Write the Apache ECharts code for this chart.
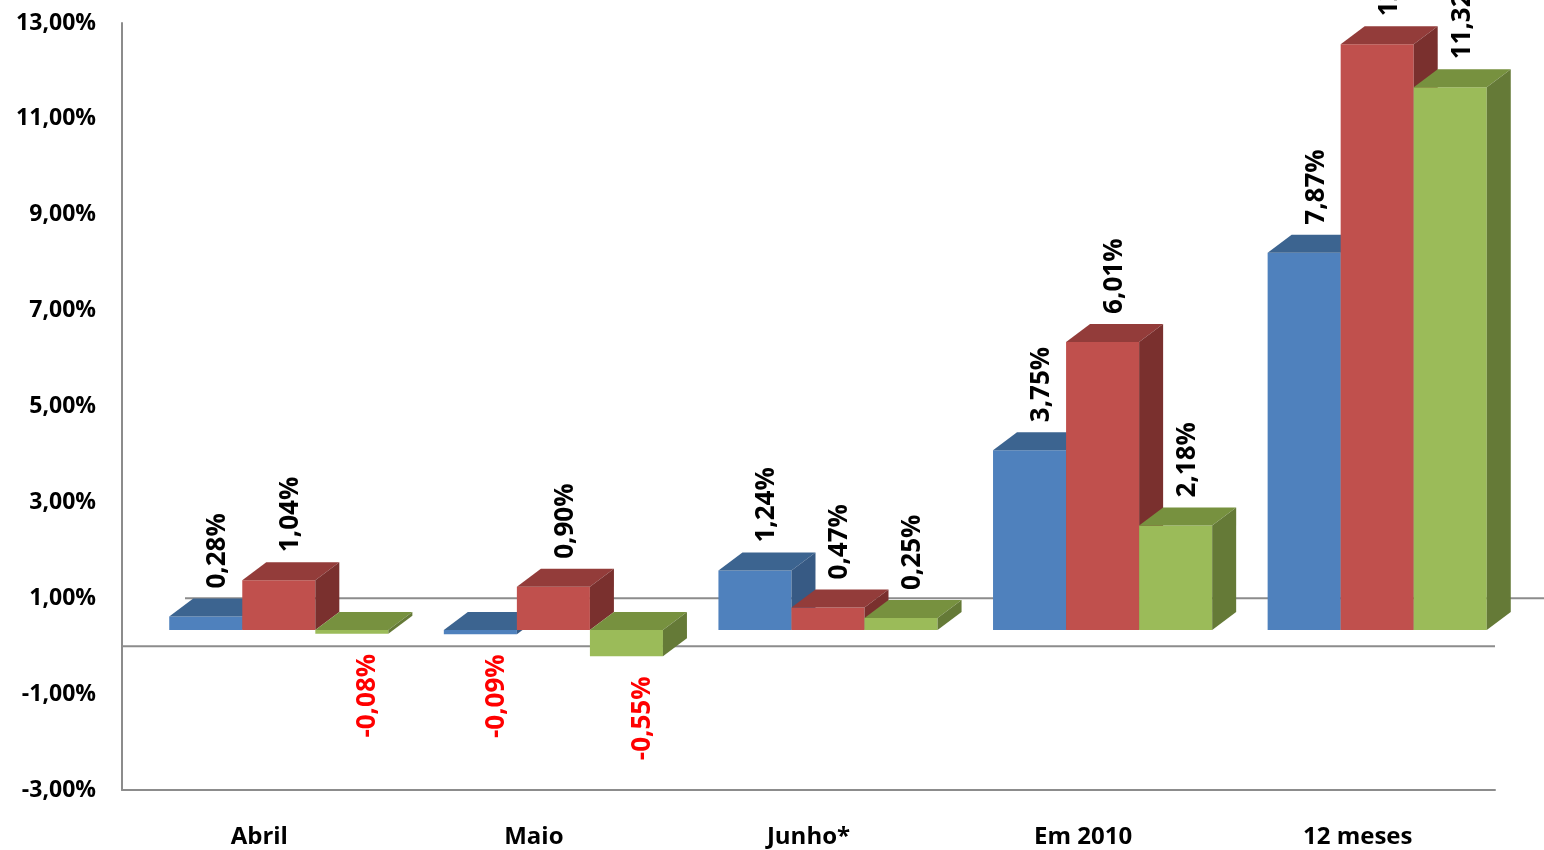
<!DOCTYPE html>
<html>
<head>
<meta charset="utf-8">
<script src="https://cdn.jsdelivr.net/npm/echarts@6/dist/echarts.min.js"></script>
<style>
  html, body { margin: 0; padding: 0; background: #fff; }
  #chart { width: 1544px; height: 850px; }
</style>
</head>
<body>
<div id="chart"></div>
<script>
// data
var categories = ['Abril', 'Maio', 'Junho*', 'Em 2010', '12 meses'];
var serieA = [0.28, -0.09, 1.24, 3.75, 7.87];   // azul
var serieB = [1.04, 0.90, 0.47, 6.01, 12.22];   // vermelho
var serieC = [-0.08, -0.55, 0.25, 2.18, 11.32]; // verde
var yTicks = { min: -3, max: 13, step: 2 };

// 3D look: front / top / side colours per series
var faces = [
  { front: '#4F81BD', top: '#3C6490', side: '#375A84' },
  { front: '#C0504D', top: '#933C3A', side: '#7A302E' },
  { front: '#9BBB59', top: '#77913F', side: '#657A37' }
];
var DEPTH_X = 24, DEPTH_Y = 18;
var ZERO_SHIFT = 0.338; // the front floor sits a bit above the 0 of the wall scale

function fmt(v) {
  return v.toFixed(2).replace('.', ',') + '%';
}

function renderBar(params, api) {
  var cat = api.value(0),
      val = api.value(1),
      band = api.size([1, 0])[0],
      barW = band * 0.266,
      base = api.coord([cat, 0]),
      yVal = api.coord([cat, val])[1],
      x0 = base[0] - band * 0.328 + params.seriesIndex * barW,
      yTop = Math.min(base[1], yVal),
      yBot = Math.max(base[1], yVal),
      c = faces[params.seriesIndex],
      dx = DEPTH_X, dy = DEPTH_Y;

  var children = [
    { type: 'rect', shape: { x: x0, y: yTop, width: barW, height: yBot - yTop },
      style: { fill: c.front } },
    { type: 'polygon', shape: { points: [[x0, yTop], [x0 + dx, yTop - dy], [x0 + barW + dx, yTop - dy], [x0 + barW, yTop]] },
      style: { fill: c.top } },
    { type: 'polygon', shape: { points: [[x0 + barW, yTop], [x0 + barW + dx, yTop - dy], [x0 + barW + dx, yBot - dy], [x0 + barW, yBot]] },
      style: { fill: c.side } }
  ];

  var neg = val < 0;
  children.push({
    type: 'text',
    z2: 100,
    x: x0 + barW / 2 + (neg ? 16 : 12),
    y: neg ? yBot + 20 : yTop - dy - 10,
    rotation: Math.PI / 2,
    style: {
      text: fmt(val),
      fill: neg ? '#FF0000' : '#000000',
      font: 'bold 26px "Open Sans"',
      align: neg ? 'right' : 'left',
      verticalAlign: 'middle'
    }
  });

  return { type: 'group', children: children };
}

function toData(arr) {
  var out = [];
  for (var i = 0; i < arr.length; i++) {
    out.push([i, arr[i]]);
  }
  return out;
}

var chart = echarts.init(document.getElementById('chart'));

var opt = {
  animation: false,
  grid: { left: 122, right: 49, top: 23, bottom: 60 },
  xAxis: {
    type: 'category',
    data: categories,
    axisLine: { onZero: false, lineStyle: { color: '#8C8C8C', width: 2 } },
    axisTick: { show: false },
    axisLabel: { margin: 35, color: '#000', fontFamily: 'Open Sans', fontWeight: 'bold', fontSize: 24 }
  },
  yAxis: [
    {
      type: 'value',
      min: yTicks.min,
      max: yTicks.max,
      interval: yTicks.step,
      axisLine: { show: true, lineStyle: { color: '#8C8C8C', width: 2 } },
      axisTick: { show: false },
      splitLine: { show: false },
      axisLabel: {
        margin: 26,
        color: '#000',
        fontFamily: 'Open Sans',
        fontWeight: 'bold',
        fontSize: 23,
        formatter: function (v) { return fmt(v); }
      }
    },
    {
      type: 'value',
      show: false,
      min: yTicks.min - ZERO_SHIFT,
      max: yTicks.max - ZERO_SHIFT,
      splitLine: { show: false }
    }
  ],
  series: [
    { name: 'A', type: 'custom', yAxisIndex: 1, renderItem: renderBar, encode: { x: 0, y: 1 }, data: toData(serieA) },
    { name: 'B', type: 'custom', yAxisIndex: 1, renderItem: renderBar, encode: { x: 0, y: 1 }, data: toData(serieB) },
    { name: 'C', type: 'custom', yAxisIndex: 1, renderItem: renderBar, encode: { x: 0, y: 1 }, data: toData(serieC) }
  ]
};

chart.setOption(opt);

// the two wall lines (0% floor edge and 1% back gridline), placed through the axis
var y0 = chart.convertToPixel({ yAxisIndex: 0 }, 0);
var y1 = chart.convertToPixel({ yAxisIndex: 0 }, 1);
chart.setOption({
  graphic: [
    { type: 'line', z: 1, shape: { x1: 122, y1: y0, x2: 1495, y2: y0 }, style: { stroke: '#8C8C8C', lineWidth: 2 } },
    { type: 'line', z: 1, shape: { x1: 185, y1: y1, x2: 1544, y2: y1 }, style: { stroke: '#8C8C8C', lineWidth: 2 } }
  ]
});
</script>
</body>
</html>
